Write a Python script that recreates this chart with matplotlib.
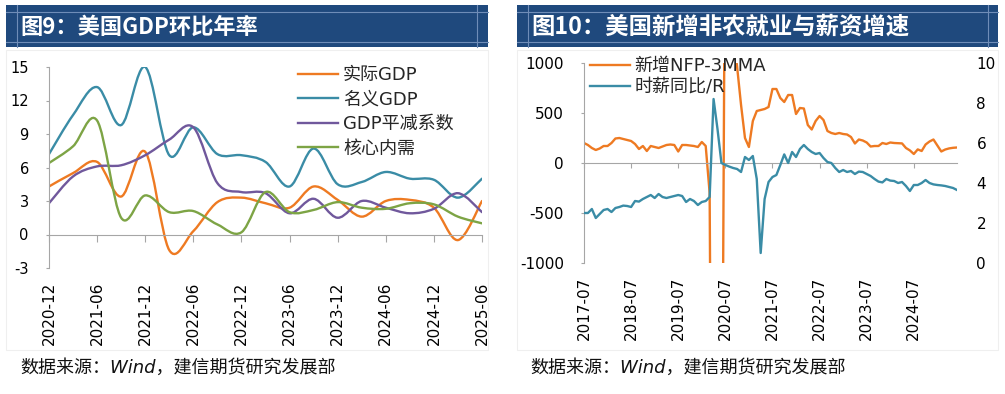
import matplotlib
matplotlib.use('Agg')
import matplotlib.pyplot as plt
from matplotlib.path import Path
from matplotlib.patches import PathPatch, Rectangle
from matplotlib.lines import Line2D

plt.rcParams['font.family'] = ['DejaVu Sans', 'Noto Sans CJK SC']
plt.rcParams['axes.unicode_minus'] = False

W, H = 1005, 394

# 图9: quarterly, annualized qoq (%)
quarters = ['2020-12', '2021-03', '2021-06', '2021-09', '2021-12', '2022-03', '2022-06',
            '2022-09', '2022-12', '2023-03', '2023-06', '2023-09', '2023-12', '2024-03',
            '2024-06', '2024-09', '2024-12', '2025-03', '2025-06']
real_gdp = [4.3, 5.5, 6.5, 3.4, 7.4, -1.4, 0.3, 2.9, 3.3, 2.8, 2.4, 4.3, 3.1, 1.6, 3.0, 3.1, 2.4, -0.5, 3.0]
nominal_gdp = [7.2, 10.7, 13.2, 9.8, 15.0, 7.1, 9.6, 7.2, 7.1, 6.5, 4.3, 7.7, 4.5, 4.7, 5.6, 5.0, 4.9, 3.3, 5.0]
deflator = [2.8, 5.2, 6.1, 6.2, 7.1, 8.5, 9.6, 4.6, 3.8, 3.7, 1.9, 3.2, 1.5, 3.0, 2.4, 1.9, 2.3, 3.7, 2.0]
core_demand = [6.4, 7.9, 10.2, 1.5, 3.5, 2.0, 2.1, 0.9, 0.2, 3.8, 2.0, 2.2, 2.9, 2.4, 2.3, 2.8, 2.7, 1.6, 1.0]
gdp_names = ['实际GDP', '名义GDP', 'GDP平减系数', '核心内需']

# 图10: monthly, 2017-07 .. 2025-06
months = []
for yr in range(2017, 2026):
    for mo in range(1, 13):
        if (yr, mo) >= (2017, 7) and (yr, mo) <= (2025, 6):
            months.append('%d-%02d' % (yr, mo))
nfp_3mma = [200, 180, 150, 130, 145, 170, 170, 200, 245, 250, 240, 230,
            220, 190, 140, 170, 120, 170, 160, 150, 165, 180, 185, 180,
            115, 180, 180, 175, 170, 160, 210, 170, -300, -7200, -6400, -4300,
            3100, 2700, 1300, 960, 580, 250, 160, 420, 520, 530, 540, 560,
            740, 740, 650, 610, 680, 680, 490, 550, 545, 380, 335, 420,
            470, 430, 320, 300, 290, 300, 290, 285, 260, 195, 235, 225,
            205, 165, 170, 170, 200, 190, 205, 200, 198, 196, 150, 126,
            90, 136, 120, 185, 215, 235, 175, 115, 135, 146, 152, 155]
ahe_yoy = [2.5, 2.5, 2.7, 2.25, 2.45, 2.65, 2.7, 2.55, 2.75, 2.8, 2.87, 2.85,
           2.8, 3.1, 3.07, 3.2, 3.3, 3.4, 3.25, 3.45, 3.3, 3.25, 3.3, 3.35,
           3.4, 3.35, 3.05, 3.2, 3.1, 2.9, 3.05, 3.1, 3.3, 8.2, 6.7, 5.0,
           4.9, 4.82, 4.75, 4.7, 4.55, 5.3, 5.15, 5.35, 4.2, 0.5, 3.2, 4.05,
           4.3, 4.4, 4.9, 5.43, 5.0, 5.55, 5.3, 5.7, 5.9, 5.7, 5.55, 5.45,
           5.5, 5.25, 5.05, 5.0, 4.75, 4.55, 4.65, 4.55, 4.6, 4.45, 4.57, 4.55,
           4.45, 4.35, 4.2, 4.07, 4.03, 4.2, 4.12, 4.1, 4.0, 4.05, 3.85, 3.6,
           3.9, 3.9, 4.0, 4.15, 4.0, 3.93, 3.9, 3.88, 3.85, 3.8, 3.75, 3.65]
job_names = ['新增NFP-3MMA', '时薪同比/R']

ORANGE = '#EE7A22'
TEAL = '#3A8CA6'
PURPLE = '#70589C'
GREEN = '#7DA445'
AXIS = '#A6A6A6'
BAR = '#1F497D'
LW = 1.7


def fig_rect(fig, x0, y0, x1, y1, **kw):
    fig.add_artist(Rectangle((x0 / W, 1 - y1 / H), (x1 - x0) / W, (y1 - y0) / H,
                             transform=fig.transFigure, **kw))


def fig_line(fig, xs, ys, **kw):
    fig.add_artist(Line2D([x / W for x in xs], [1 - y / H for y in ys],
                          transform=fig.transFigure, **kw))


def add_axes_px(fig, x0, y0, x1, y1):
    return fig.add_axes([x0 / W, 1 - y1 / H, (x1 - x0) / W, (y1 - y0) / H])


def title_bar(fig, x0, x1, vx0, vx1, text, size):
    fig_rect(fig, x0, 5, x1, 47, fc=BAR, ec='none')
    for yy in (12, 42):
        fig_line(fig, [x0, x1], [yy, yy], color='#6F8DB8', lw=0.8)
    for xx in (vx0, vx1):
        fig_line(fig, [xx, xx], [5, 47], color='#6F8DB8', lw=0.8)
    fig.text((vx0 + 3) / W, 1 - 27 / H, text, color='white', fontsize=size, fontweight='bold',
             family=['Noto Sans CJK SC'], va='center', ha='left')


def smooth_path(xs, ys):
    # excel-like smoothed line through the points
    pts = list(zip(xs, ys))
    n = len(pts)
    verts = [pts[0]]
    codes = [Path.MOVETO]
    for i in range(n - 1):
        p0 = pts[i - 1] if i > 0 else pts[i]
        p1 = pts[i]
        p2 = pts[i + 1]
        p3 = pts[i + 2] if i + 2 < n else pts[i + 1]
        c1 = (p1[0] + (p2[0] - p0[0]) / 6, p1[1] + (p2[1] - p0[1]) / 6)
        c2 = (p2[0] - (p3[0] - p1[0]) / 6, p2[1] - (p3[1] - p1[1]) / 6)
        verts += [c1, c2, p2]
        codes += [Path.CURVE4] * 3
    return Path(verts, codes)


fig = plt.figure(figsize=(W / 100, H / 100), dpi=100)

# ---------------- left: 图9
title_bar(fig, 6, 488, 17, 477, '图9：美国GDP环比年率', 16)
fig_rect(fig, 6, 50, 488, 350, fill=False, ec='#EFEFEF', lw=0.8)

ax = add_axes_px(fig, 49, 67, 482, 268)
xq = list(range(len(quarters)))
handles = []
for vals, c in zip([real_gdp, nominal_gdp, deflator, core_demand], [ORANGE, TEAL, PURPLE, GREEN]):
    ax.add_patch(PathPatch(smooth_path(xq, vals), fill=False, ec=c, lw=LW, capstyle='round'))
    handles.append(Line2D([], [], color=c, lw=LW))
ax.set_xlim(0, len(quarters) - 1)
ax.set_ylim(-3, 15)
ax.set_yticks(range(-3, 16, 3))
for s in ['top', 'right']:
    ax.spines[s].set_visible(False)
ax.spines['left'].set_color(AXIS)
ax.spines['bottom'].set_color(AXIS)
ax.spines['bottom'].set_position(('data', 0))
ax.set_xticks(xq[::2])
ax.tick_params(axis='x', direction='out', length=5, color=AXIS, labelbottom=False)
ax.tick_params(axis='y', direction='out', length=2.5, color=AXIS, labelsize=10.5, pad=12)
sec = ax.secondary_xaxis('bottom')
sec.set_xticks(xq[::2], quarters[::2], rotation=90)
sec.spines['bottom'].set_visible(False)
sec.tick_params(length=0, labelsize=11, pad=10)
ax.legend(handles, gdp_names, loc='upper left', bbox_to_anchor=(298 / W, 1 - 66 / H),
          bbox_transform=fig.transFigure, frameon=False, fontsize=13, handlelength=2.2,
          handletextpad=0.3, labelspacing=0.36, borderpad=0, borderaxespad=0,
          labelcolor='#262626')

fig.text(20 / W, 1 - 368 / H, '数据来源：Wind，建信期货研究发展部', fontsize=13, style='italic',
         va='center', ha='left', color='#111111')

# ---------------- right: 图10
title_bar(fig, 517, 998, 528, 988, '图10：美国新增非农就业与薪资增速', 16.8)
fig_rect(fig, 517, 50, 998, 350, fill=False, ec='#EFEFEF', lw=0.8)

bx = add_axes_px(fig, 584, 63, 957, 263)
xm = list(range(len(months)))
l1, = bx.plot(xm, nfp_3mma, color=ORANGE, lw=LW)
bx.set_xlim(0, len(months) - 1)
bx.set_ylim(-1000, 1000)
bx.set_yticks([-1000, -500, 0, 500, 1000])
for s in ['top', 'right']:
    bx.spines[s].set_visible(False)
bx.spines['left'].set_color(AXIS)
bx.spines['bottom'].set_color(AXIS)
bx.spines['bottom'].set_position(('data', 0))
july = [i for i, m in enumerate(months) if m.endswith('-07')]
bx.set_xticks(july)
bx.tick_params(axis='x', direction='out', length=3.5, color=AXIS, labelbottom=False)
bx.tick_params(axis='y', direction='out', length=2.5, color=AXIS, labelsize=11, pad=12)

bx2 = bx.twinx()
l2, = bx2.plot(xm, ahe_yoy, color=TEAL, lw=LW)
bx2.set_ylim(0, 10)
bx2.set_yticks(range(0, 11, 2))
for s in bx2.spines.values():
    s.set_visible(False)
bx2.tick_params(axis='y', length=0, labelsize=11, pad=14)

sec2 = bx.secondary_xaxis('bottom')
sec2.set_xticks(july, [months[i] for i in july], rotation=90)
sec2.spines['bottom'].set_visible(False)
sec2.tick_params(length=0, labelsize=11, pad=10)

bx2.legend([l1, l2], job_names, loc='upper left', bbox_to_anchor=(590 / W, 1 - 57 / H),
           bbox_transform=fig.transFigure, frameon=False, fontsize=13, handlelength=2.2,
           handletextpad=0.25, labelspacing=0.16, borderpad=0, borderaxespad=0,
           labelcolor='#262626')

fig.text(530 / W, 1 - 368 / H, '数据来源：Wind，建信期货研究发展部', fontsize=13, style='italic',
         va='center', ha='left', color='#111111')

fig.savefig('out.png', dpi=100)
